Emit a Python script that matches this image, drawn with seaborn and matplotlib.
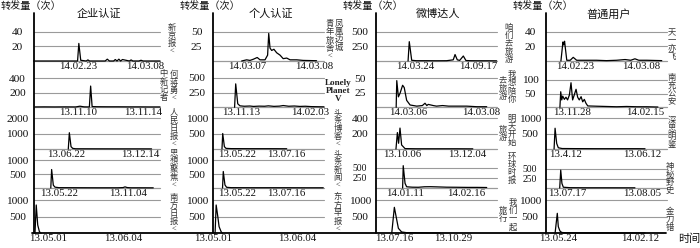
import matplotlib
matplotlib.use("Agg")
import matplotlib.pyplot as plt
import seaborn as sns
from matplotlib.lines import Line2D

sns.set_style("white")
plt.rcParams['font.family'] = ['Liberation Serif', 'Noto Sans CJK SC']

# ---------------- data ----------------
col_titles = ["企业认证", "个人认证", "微博达人", "普通用户"]
y_header = "转发量（次）"
x_header = "时间"

# column 1: 企业认证
c1_names = ["新京报<", "中新记者何蒋勇<", "人民日报<", "思想聚焦<", "南方日报<"]
c1_yticks = [[20, 40], [200, 400], [1000, 2000], [500, 1000], [500, 1000]]
c1_dates = [["14.02.23", "14.03.08"], ["13.11.10", "13.11.14"], ["13.06.22", "13.12.14"],
            ["13.05.22", "13.11.04"], ["13.05.01", "13.06.04"]]
c1_date_t = [[21.2, 52.9], [21.2, 52.1], [15.3, 50.5], [12.1, 44.7], [6.9, 42.5]]
c1_p1_t = [0, 20.9, 21.5, 22.4, 25, 25.8, 26.6, 34, 35, 36, 38, 38.8, 39.6, 40.5, 41.3, 42.2, 45.5, 46.3, 47.1, 50, 51, 52, 60]
c1_p1_v = [0, 0, 24, 1, 0, 1.5, 0, 0, 2.5, 0, 0, 2, 0, 2.5, 0, 2, 0, 1.5, 0, 0, 1, 0, 0]
c1_p2_t = [0.7, 5, 10, 15, 20, 22, 24, 26.5, 27.1, 27.8, 30, 35, 40, 45, 50, 55, 60]
c1_p2_v = [5, 6, 5, 6, 5, 15, 6, 5, 290, 10, 8, 7, 7, 6, 6, 5, 5]
c1_p3_t = [16.5, 17, 17.8, 18.6, 20, 30, 40, 50, 56]
c1_p3_v = [0, 1050, 150, 40, 15, 12, 10, 10, 8]
c1_p4_t = [8.2, 8.6, 9.4, 10.2, 12, 20, 30, 40, 42.5, 43.4, 44.5, 46, 50, 56.8]
c1_p4_v = [0, 660, 100, 30, 12, 10, 8, 8, 15, 40, 15, 8, 8, 6]
c1_p5_t = [0.7, 1.3, 2.0, 2.8, 3.6]
c1_p5_v = [0, 850, 250, 50, 0]

# column 2: 个人认证
c2_names = ["凤凰边城青年旅舍<", "Lonely Planet V", "头条博客<", "头条新闻<", "东方早报<"]
c2_yticks = [[25, 50], [250, 500], [500, 1000], [500, 1000], [500, 1000]]
c2_dates = [["14.03.07", "14.03.08"], ["13.11.13", "14.02.03"], ["13.05.22", "13.07.16"],
            ["13.05.22", "13.07.16"], ["13.05.01", "13.06.04"]]
c2_date_t = [[18.8, 54.7], [15.2, 52.5], [12.9, 39.9], [12.9, 39.9], [-1.0, 45.3]]
c2_p1_t = [15.6, 18.3, 20.1, 21.9, 24, 25.5, 28.2, 29.6, 30.2, 30.9, 31.8, 33, 34.5, 36.3, 38, 39.9, 41.7, 45.3, 48.8, 56]
c2_p1_v = [0, 2, 1, 3, 6, 2, 2, 10, 47, 22, 18, 20, 14, 10, 4, 5, 2, 2, 1, 0.5]
c2_p2_t = [11.8, 12.4, 13.5, 14.7, 17, 20, 22, 25, 28, 30, 33, 36, 38, 41, 44, 47, 50, 53, 56, 60]
c2_p2_v = [0, 400, 60, 25, 18, 22, 15, 20, 18, 25, 16, 20, 30, 18, 22, 15, 18, 12, 10, 8]
c2_p3_t = [5, 5.4, 6.3, 7.2, 10, 20, 30, 39.9]
c2_p3_v = [0, 500, 75, 20, 12, 10, 10, 8]
c2_p4_t = [5.3, 5.7, 6.6, 7.5, 10, 20, 30, 40, 50, 59.6]
c2_p4_v = [0, 590, 110, 25, 12, 10, 10, 10, 8, 8]
c2_p5_t = [0.3, 0.9, 1.8, 2.5, 3.6, 4.3]
c2_p5_v = [0, 850, 500, 200, 50, 0]

# column 3: 微博达人
c3_names = ["咱们去旅游", "我想陪你去旅游", "明天开始旅游", "环球时报", "我们一起旅行"]
c3_yticks = [[250, 500], [25, 50], [200, 400], [250, 500], [500, 1000]]
c3_dates = [["14.03.24", "14.09.17"], ["14.03.06", "14.03.08"], ["13.10.06", "13.12.04"],
            ["14.01.11", "14.02.16"], ["13.07.16", "13.10.29"]]
c3_date_t = [[19.3, 50.7], [16.0, 52.0], [13.1, 45.0], [14.4, 44.5], [9.0, 38.3]]
c3_p1_t = [15.9, 16.5, 17.7, 20, 25, 30, 35, 38.3, 39.2, 40.3, 41.5, 43.3, 44.6, 47, 50, 55, 59.8]
c3_p1_v = [0, 330, 12, 5, 5, 4, 5, 20, 110, 20, 10, 85, 8, 5, 4, 4, 3]
c3_p2_t = [10.0, 10.3, 11.1, 11.9, 13.2, 14, 15.2, 16.9, 20.2, 23, 24.3, 25.2, 25.9, 28.4, 30, 33, 36, 40, 45, 50, 54.9]
c3_p2_v = [0, 46, 18, 24, 38, 34, 12, 4, 2, 3, 7, 3, 5, 3, 2, 3, 2, 2, 2, 1, 1]
c3_p3_t = [9.9, 10.6, 11.2, 11.9, 12.7, 14.4, 20, 30, 40, 48]
c3_p3_v = [0, 212, 74, 270, 52, 5, 3, 3, 3, 2]
c3_p4_t = [13.2, 13.5, 14.4, 15.2, 18, 21, 24, 27, 30, 35, 40, 45, 50, 54.9]
c3_p4_v = [0, 550, 115, 30, 20, 18, 30, 32, 28, 20, 18, 15, 15, 12]
c3_p5_t = [7.8, 9.1, 10.3, 11.1, 12.7, 15, 20, 25, 31.7]
c3_p5_v = [0, 780, 400, 150, 40, 20, 15, 12, 10]

# column 4: 普通用户
c4_names = ["天一亦飞", "南充公安", "深思明鉴", "神秘野史", "金刀错"]
c4_yticks = [[20, 40], [50, 100], [500, 1000], [250, 500], [500, 1000]]
c4_dates = [["14.02.23", "14.03.08"], ["13.11.28", "14.02.15"], ["13.4.12", "13.06.12"],
            ["13.07.17", "13.08.05"], ["13.05.24", "14.02.12"]]
c4_date_t = [[14.4, 47.0], [12.7, 49.1], [9.8, 47.8], [10.7, 47.4], [6.1, 46.6]]
c4_p1_t = [7.4, 8.4, 8.8, 9.2, 10.3, 12, 13.5, 15.2, 20, 25, 30, 35, 39.2, 42, 44.1, 46, 50, 57.4]
c4_p1_v = [0, 26, 22, 27, 1, 1, 5, 1, 1, 1, 0.5, 1, 2, 1, 3, 1, 1, 0.5]
c4_p2_t = [6.9, 7.3, 7.8, 8.3, 9.1, 9.9, 10.7, 11.6, 12.4, 13.2, 14.0, 14.9, 15.7, 16.5, 17.4, 18.2, 19.0, 19.8, 20.7,
           25, 30, 35, 40, 45, 50, 55.5]
c4_p2_v = [0, 57, 27, 41, 29, 37, 27, 45, 90, 27, 45, 66, 37, 27, 39, 20, 29, 15, 5,
           4, 3, 2, 3, 2, 2, 1]
c4_p3_t = [4, 4.5, 5.3, 6.1, 8, 15, 25, 35, 45, 49.1]
c4_p3_v = [0, 670, 180, 40, 15, 12, 10, 10, 10, 8]
c4_p4_t = [6.8, 7.3, 7.9, 8.6, 12, 20, 30, 40, 44.1]
c4_p4_v = [0, 470, 120, 20, 8, 6, 6, 5, 5]
c4_p5_t = [4.5, 5.6, 6.1, 6.9, 7.8, 10, 20, 30, 40, 49.1]
c4_p5_v = [0, 600, 200, 70, 25, 15, 12, 12, 10, 10]

series = [
    [(c1_p1_t, c1_p1_v), (c1_p2_t, c1_p2_v), (c1_p3_t, c1_p3_v), (c1_p4_t, c1_p4_v), (c1_p5_t, c1_p5_v)],
    [(c2_p1_t, c2_p1_v), (c2_p2_t, c2_p2_v), (c2_p3_t, c2_p3_v), (c2_p4_t, c2_p4_v), (c2_p5_t, c2_p5_v)],
    [(c3_p1_t, c3_p1_v), (c3_p2_t, c3_p2_v), (c3_p3_t, c3_p3_v), (c3_p4_t, c3_p4_v), (c3_p5_t, c3_p5_v)],
    [(c4_p1_t, c4_p1_v), (c4_p2_t, c4_p2_v), (c4_p3_t, c4_p3_v), (c4_p4_t, c4_p4_v), (c4_p5_t, c4_p5_v)],
]
yticks_all = [c1_yticks, c2_yticks, c3_yticks, c4_yticks]
dates_all = [c1_dates, c2_dates, c3_dates, c4_dates]
date_t_all = [c1_date_t, c2_date_t, c3_date_t, c4_date_t]

# ---------------- layout (pixels) ----------------
W, Hf = 700, 248
fig = plt.figure(figsize=(7, 2.48), dpi=100)
fig.patch.set_facecolor("white")

axis_x = [33.5, 212.7, 376.0, 546.0]
right_x = [160.0, 324.0, 497.0, 667.0]
baseline_y = [61.0, 107.3, 149.0, 188.0, 233.3]
grid_off = [[29.3, 29.3, 29.3, 29.3],
            [29.3, 29.3, 29.0, 27.3],
            [31.0, 31.0, 31.0, 31.0],
            [28.0, 28.0, 20.3, 19.0],
            [33.3, 33.3, 33.3, 33.3]]
PH = 36.0  # panel height in px

# series name layout: (text, x_px, y_center_px)
name_layout = [
    [[("新京报<", 172, 40)], [("何蒋勇<", 173.5, 87), ("中新记者", 163.5, 86)],
     [("人民日报<", 173.5, 129)], [("思想聚焦<", 173.5, 170)], [("南方日报<", 173.5, 214)]],
    [[("凤凰边城", 339, 36), ("青年旅舍<", 329.5, 40.5)], None,
     [("头条博客<", 337.7, 129)], [("头条新闻<", 337.7, 170)], [("东方早报<", 337.7, 213.5)]],
    [[("咱们去旅游", 508.5, 44)], [("我想陪你", 512, 87.5), ("去旅游", 502.7, 89)],
     [("明天开始", 512, 131), ("旅游", 503, 134)], [("环球时报", 511.7, 169)],
     [("我们一起", 513.3, 215), ("旅行", 503.3, 215)]],
    [[("天一亦飞", 671.7, 45)], [("南充公安", 671.7, 90)], [("深思明鉴", 671.7, 133)],
     [("神秘野史", 670, 179)], [("金刀错", 670, 220)]],
]

def fx(px):
    return px / W

def fy(py):
    return 1 - py / Hf

GRID_C = "#9a9a9a"
TICK_FS = 7.8

for c in range(4):
    x0, x1 = axis_x[c], right_x[c]
    for r in range(5):
        yb = baseline_y[r]
        ax = fig.add_axes([fx(x0), fy(yb), (x1 - x0) / W, PH / Hf])
        ax.set_facecolor("none")
        for s in ax.spines.values():
            s.set_visible(False)
        t, v = series[c][r]
        yt = yticks_all[c][r]
        top = yt[1] * PH / grid_off[r][c]
        for g in yt:
            ax.axhline(g, color=GRID_C, lw=0.8, zorder=1)
        if r < 4:
            ax.axhline(0, color=GRID_C, lw=0.9, zorder=1)
        sns.lineplot(x=t, y=v, ax=ax, color="black", linewidth=0.9,
                     estimator=None, sort=False, zorder=3)
        for ln in ax.lines:
            ln.set_clip_on(False)
        ax.set_xlim(0, 60)
        ax.set_ylim(0, top)
        ax.set_yticks(yt)
        ax.set_yticklabels([str(k) for k in yt])
        ytfs = 6.9 if grid_off[r][c] < 25 else 8.2
        ax.tick_params(axis="y", length=0, pad=11.5, labelsize=ytfs, colors="#111111")
        for lab in ax.get_yticklabels():
            lab.set_ha("center")
        ax.set_xticks(date_t_all[c][r])
        ax.set_xticklabels(dates_all[c][r])
        ax.tick_params(axis="x", length=0, pad=0.8, labelsize=TICK_FS, colors="#111111")
        ax.set_xlabel("")
        ax.set_ylabel("")
        ax.grid(False)

        # series name (vertical)
        lay = name_layout[c][r]
        if lay is None:
            fig.text(fx(338), fy(91), "Lonely\nPlanet\nV", ha="center", va="center",
                     fontsize=6.6, linespacing=1.05, color="#222222", fontweight="bold")
        else:
            for txt, px, pyc in lay:
                n = len(txt)
                pitch = 8.1
                for i, ch in enumerate(txt):
                    py = pyc + (i - (n - 1) / 2) * pitch
                    fig.text(fx(px), fy(py), ch, ha="center", va="center",
                             fontsize=6.0, color="#333333")

    # vertical axis line
    fig.add_artist(Line2D([fx(x0), fx(x0)], [fy(12.5), fy(233.3)], color="black", lw=1.3))
    # header and title
    fig.text(fx(x0 - 33), fy(7), y_header, ha="left", va="center", fontsize=7.3, color="#111111")
    fig.text(fx((x0 + x1) / 2 + 2), fy(14), col_titles[c], ha="center", va="center",
             fontsize=8, color="#111111")

# bottom time axis line
fig.add_artist(Line2D([fx(32), fx(666)], [fy(233.3), fy(233.3)], color="black", lw=1.3))
fig.text(fx(689), fy(238.5), x_header, ha="center", va="center", fontsize=8, color="#111111")

fig.savefig("out.png", dpi=100, facecolor="white")
